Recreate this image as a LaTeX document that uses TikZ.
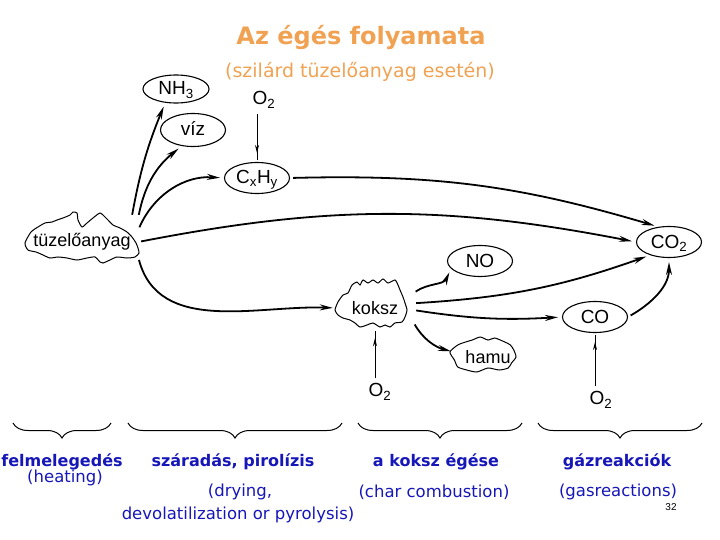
\documentclass[tikz,border=0pt]{standalone}
\usepackage{fontspec}
\setmainfont{Liberation Sans}
\newfontfamily\comicfont{DejaVu Sans}
\usepackage{xcolor}
\usetikzlibrary{shapes.geometric,arrows.meta,decorations.markings,decorations.pathreplacing}
\definecolor{titleorange}{RGB}{240,162,82}
\definecolor{labelblue}{RGB}{22,22,185}

\begin{document}
\begin{tikzpicture}[x=1pt,y=1pt,
  species/.style={draw, ellipse, line width=1.1pt, inner sep=0pt, text height=13pt, text depth=1pt,
    minimum width=65pt, minimum height=31pt, font=\fontsize{19}{22}\selectfont},
  blobnode/.style={rectangle, inner sep=0pt, font=\fontsize{18}{21}\selectfont},
  blobline/.style={line width=1pt},
  flow/.style={line width=1.8pt, -{Stealth[length=13pt,width=6pt]}, shorten <=3pt, shorten >=4pt},
  feed/.style={line width=1pt, shorten <=2pt, shorten >=2pt, postaction={decorate},
    decoration={markings, mark=at position -9pt with {\arrow{Stealth[length=8pt,width=4pt]}}}},
  phase/.style={text=labelblue, font=\comicfont\bfseries\fontsize{16}{18}\selectfont},
  phasesub/.style={text=labelblue, font=\comicfont\fontsize{16.5}{19}\selectfont},
  stage/.style={decorate, decoration={brace, mirror, amplitude=15pt}, line width=1pt}]
  \useasboundingbox (0,0) rectangle (720,-540);

  % Title
  \node[text=titleorange, font=\comicfont\bfseries\fontsize{24}{27}\selectfont] (title) at (361,-37) {Az égés folyamata};
  \node[text=titleorange, font=\comicfont\fontsize{19}{22}\selectfont] (subtitle) at (360,-72) {(szilárd tüzelőanyag esetén)};

  % Species
  \node[species, minimum width=66pt, minimum height=28pt] (nh3) at (176,-89) {NH\textsubscript{3}};
  \node[species, minimum height=33pt] (viz) at (193,-130) {víz};
  \node[species] (cxhy) at (257,-178) {C\textsubscript{x}H\textsubscript{y}};
  \node[species] (co2) at (669,-242) {CO\textsubscript{2}};
  \node[species] (no) at (480,-261) {NO};
  \node[species] (co) at (595,-317) {CO};

  % Solids (wavy outlines)
  \node[blobnode, minimum width=112pt, minimum height=48pt] (tuz) at (82,-242) {tüzelőanyag};
  \node[blobnode, minimum width=76pt, minimum height=42pt] (koksz) at (375,-308) {koksz};
  \node[blobnode, minimum width=66pt, minimum height=34pt] (hamu) at (488,-357) {hamu};
  \draw[blobline, shift={(tuz.center)}] plot[smooth cycle, tension=.4] coordinates {
    (-57,-1) (-51,10) (-44,15) (-37,19) (-30,20) (-25,22) (-19,24) (-12,27) (-9,30) (-5,29)
    (-4,22) (0,15) (5,19) (11,24) (18,29) (23,25) (26,22) (31,17) (38,14) (45,10) (50,5)
    (54,-1) (56,-6) (57,-11) (53,-15) (45,-16) (35,-15) (28,-18) (21,-21) (18,-20) (13,-15)
    (5,-16) (-5,-18) (-15,-16) (-24,-15) (-32,-16) (-39,-13) (-46,-10) (-54,-8)};
  \draw[blobline, shift={(koksz.center)}] plot[smooth cycle, tension=.4] coordinates {
    (-40,-2) (-37,6) (-32,13) (-27,15) (-23,23) (-18,26) (-15,23) (-12,28) (-7,25) (-2,28)
    (3,25) (8,29) (13,25) (20,28) (23,23) (25,18) (28,11) (30,5) (32,-2) (30,-9) (27,-14)
    (20,-15) (15,-19) (10,-17) (5,-19) (-2,-15) (-8,-17) (-15,-19) (-20,-15) (-25,-12)
    (-32,-10) (-37,-7)};
  \draw[blobline, shift={(hamu.center)}, xscale=1.12] plot[smooth cycle, tension=.4] coordinates {
    (-34,5) (-27,12) (-20,15) (-14,17) (-7,20) (0,17) (6,19) (15,15) (20,12) (23,7) (25,0)
    (21,-6) (18,-11) (10,-13) (0,-11) (-10,-15) (-19,-13) (-27,-10) (-30,-3)};

  % Oxygen
  \node[font=\fontsize{19}{22}\selectfont] (o2top) at (264,-100) {O\textsubscript{2}};
  \node[font=\fontsize{19}{22}\selectfont] (o2a) at (380,-392) {O\textsubscript{2}};
  \node[font=\fontsize{19}{22}\selectfont] (o2b) at (601,-400) {O\textsubscript{2}};

  % Out of the fuel
  \draw[flow] (tuz.26) to[bend left=6] (nh3.232);
  \draw[flow] (tuz.north east) to[bend left=20] (viz.235);
  \draw[flow] (tuz.12) to[bend left=35] (cxhy.west);
  \draw[flow] (tuz.east) to[bend left=11] (co2.west);
  \draw[flow] (tuz.-15) to[out=-75,in=178] (koksz.west);
  % Volatiles
  \draw[flow] (cxhy.east) to[bend left=9] (co2.125);
  % Char
  \draw[flow] (koksz.21) to[out=35,in=-115] (no.195);
  \draw[flow] (koksz.7) to[bend right=8] (co2.215);
  \draw[flow] (koksz.-3) to[bend right=6] (co.west);
  \draw[flow] (koksz.-20) to[out=-60,in=165] (hamu.172);
  % Gas phase
  \draw[flow] (co.east) to[out=30,in=-90] (co2.south);
  % Oxygen feed
  \draw[feed] (o2top.south -| cxhy.north) -- (cxhy.north);
  \draw[feed] (o2a.north -| koksz.south) -- (koksz.south);
  \draw[feed] (o2b.north -| co.south) -- (co.south);

  % Stages
  \draw[stage] (13,-423) -- (111,-423);
  \draw[stage] (128,-423) -- (342,-423);
  \draw[stage] (358,-423) -- (522,-423);
  \draw[stage] (538,-423) -- (702,-423);
  \node[phase] (heat) at (62,-462) {felmelegedés};
  \node[phasesub] (heaten) at (65,-478) {(heating)};
  \node[phase] (dry) at (233,-462) {száradás, pirolízis};
  \node[phasesub] (dryen) at (240,-492) {(drying,};
  \node[phasesub] (dryen2) at (238,-515) {devolatilization or pyrolysis)};
  \node[phase] (burn) at (436,-462) {a koksz égése};
  \node[phasesub] (burnen) at (434,-492) {(char combustion)};
  \node[phase] (gas) at (617,-462) {gázreakciók};
  \node[phasesub] (gasen) at (618,-492) {(gasreactions)};
  \node[font=\fontsize{10}{12}\selectfont] (page) at (671,-507) {32};
\end{tikzpicture}
\end{document}
